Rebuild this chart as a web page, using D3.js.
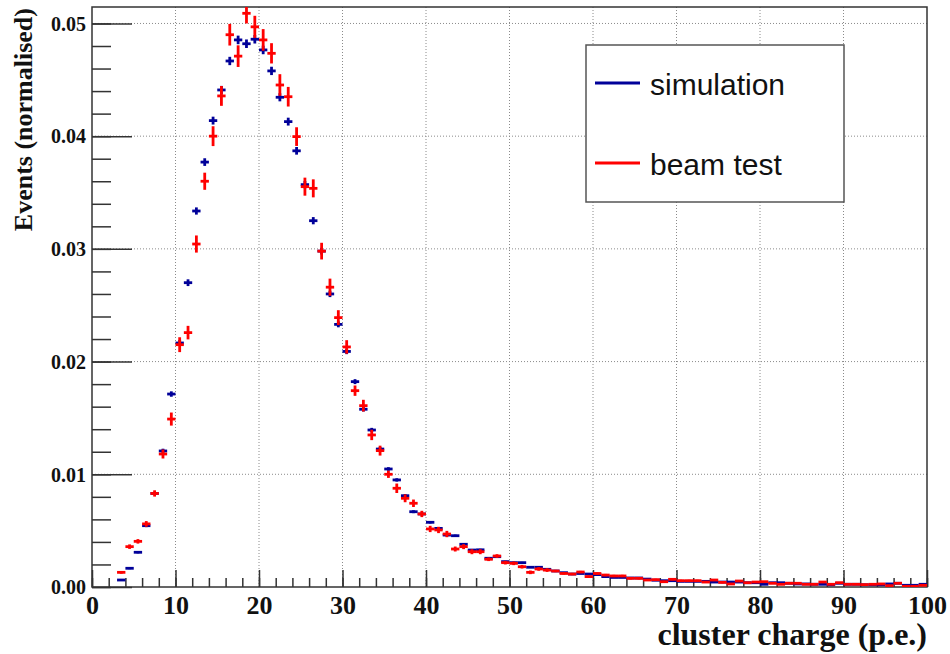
<!DOCTYPE html>
<html>
<head>
<meta charset="utf-8">
<script src="https://cdn.jsdelivr.net/npm/d3@7"></script>
<style>
  html, body { margin: 0; padding: 0; background: #fff; overflow: hidden; }
  svg { display: block; }
  .grid line { stroke: #8a8a8a; stroke-width: 1; stroke-dasharray: 1,2; }
  .axis line { stroke: #333; stroke-width: 1.5; }
  .axis text { font-family: "Liberation Serif", "Times New Roman", serif; font-weight: bold; fill: #111; }
</style>
</head>
<body>
<div id="chart"></div>
<script>
// bin i covers [i, i+1) p.e.
var binEdges = d3.range(0, 101);

var simulation = [
  0, 0, 0, 0.00062, 0.00166, 0.00308, 0.00544, 0.0083, 0.01207, 0.01712,
  0.02165, 0.0270, 0.03336, 0.0377, 0.04138, 0.0441, 0.04667, 0.04854, 0.0482, 0.0486,
  0.04765, 0.04579, 0.04345, 0.04129, 0.0387, 0.0357, 0.0325, 0.0298, 0.0260, 0.0233,
  0.0209, 0.01822, 0.01577, 0.01393, 0.01224, 0.01047, 0.0095, 0.0081, 0.00668, 0.00648,
  0.00574, 0.0052, 0.00461, 0.00455, 0.00379, 0.00328, 0.0033, 0.00255, 0.00269, 0.00225,
  0.00216, 0.00216, 0.00175, 0.00175, 0.00157, 0.00142, 0.00127, 0.00115, 0.0012, 0.00115,
  0.0011, 0.00092, 0.00085, 0.00085, 0.0008, 0.0008, 0.0007, 0.0006, 0.00056, 0.00056,
  0.0005, 0.0005, 0.0005, 0.0005, 0.00044, 0.00044, 0.00044, 0.00044, 0.00038, 0.00038,
  0.00024, 0.00038, 0.00038, 0.00033, 0.00027, 0.00027, 0.00024, 0.00024, 0.0002, 0.00033,
  0.00024, 0.00024, 0.0002, 0.0002, 0.0002, 0.00027, 0.00033, 0.00015, 0.00015, 0.00024
];

var simulationErr = [
  0, 0, 0, 0.00005, 0.00008, 0.0001, 0.00013, 0.00016, 0.0002, 0.00024,
  0.00027, 0.0003, 0.00032, 0.00034, 0.00035, 0.00036, 0.00037, 0.00038, 0.00038, 0.00038,
  0.00038, 0.00037, 0.00036, 0.00035, 0.00034, 0.00033, 0.00032, 0.0003, 0.00028, 0.00026,
  0.00024, 0.00022, 0.0002, 0.00019, 0.00018, 0.00016, 0.00015, 0.00014, 0.00013, 0.00012,
  0.00011, 0.0001, 0.0001, 0.0001, 0.00009, 0.00009, 0.00009, 0.00008, 0.00008, 0.00007,
  0.00007, 0.00007, 0.00006, 0.00006, 0.00006, 0.00005, 0.00005, 0.00005, 0.00005, 0.00005,
  0.00005, 0.00004, 0.00004, 0.00004, 0.00004, 0.00004, 0.00004, 0.00003, 0.00003, 0.00003,
  0.00003, 0.00003, 0.00003, 0.00003, 0.00003, 0.00003, 0.00003, 0.00003, 0.00003, 0.00003,
  0.00002, 0.00003, 0.00003, 0.00002, 0.00002, 0.00002, 0.00002, 0.00002, 0.00002, 0.00002,
  0.00002, 0.00002, 0.00002, 0.00002, 0.00002, 0.00002, 0.00002, 0.00002, 0.00002, 0.00002
];

var beamTest = [
  0, 0, 0, 0.0013, 0.00358, 0.00405, 0.0056, 0.0083, 0.0118, 0.0149,
  0.0215, 0.02257, 0.03043, 0.0360, 0.0400, 0.04357, 0.0490, 0.0471, 0.0509, 0.0497,
  0.04854, 0.04735, 0.04454, 0.0435, 0.03996, 0.03552, 0.03537, 0.0298, 0.0266, 0.0239,
  0.0213, 0.01742, 0.01609, 0.01349, 0.0121, 0.0100, 0.00876, 0.00787, 0.00743, 0.00648,
  0.00515, 0.00506, 0.0047, 0.00337, 0.00358, 0.00313, 0.00313, 0.00246, 0.00275, 0.00216,
  0.0021, 0.0018, 0.0013, 0.0016, 0.0015, 0.00142, 0.0012, 0.00115, 0.00133, 0.00092,
  0.0012, 0.00106, 0.00098, 0.00098, 0.00077, 0.00077, 0.00062, 0.00065, 0.00047, 0.00068,
  0.00056, 0.00056, 0.00056, 0.00044, 0.00062, 0.00041, 0.00027, 0.00053, 0.00038, 0.00044,
  0.00047, 0.00033, 0.00024, 0.00033, 0.00033, 0.00024, 0.00024, 0.00044, 0.00024, 0.00038,
  0.00024, 0.00024, 0.00021, 0.00024, 0.00027, 0.00012, 0.00033, 0.00006, 0.00006, 0.00015
];

var beamTestErr = [
  0, 0, 0, 0.00012, 0.0002, 0.0002, 0.00025, 0.00028, 0.0004, 0.00058,
  0.00066, 0.0006, 0.00076, 0.00076, 0.00088, 0.00088, 0.00096, 0.00096, 0.0009, 0.00098,
  0.00096, 0.0009, 0.00096, 0.00087, 0.00083, 0.0008, 0.0008, 0.00074, 0.00076, 0.00066,
  0.0006, 0.00046, 0.00052, 0.00046, 0.00044, 0.00032, 0.00042, 0.00035, 0.00033, 0.00028,
  0.00028, 0.00028, 0.00028, 0.00022, 0.00022, 0.00022, 0.00022, 0.00016, 0.00016, 0.00016,
  0.00016, 0.00016, 0.00016, 0.00016, 0.00016, 0.0001, 0.0001, 0.0001, 0.0001, 0.0001,
  0.0001, 0.0001, 0.0001, 0.0001, 0.0001, 0.0001, 0.00008, 0.00008, 0.00008, 0.00008,
  0.00008, 0.00008, 0.00008, 0.00008, 0.00008, 0.00008, 0.00006, 0.00006, 0.00006, 0.00006,
  0.00006, 0.00006, 0.00006, 0.00006, 0.00006, 0.00006, 0.00006, 0.00006, 0.00006, 0.00006,
  0.00006, 0.00006, 0.00006, 0.00006, 0.00006, 0.00004, 0.00006, 0.00003, 0.00003, 0.00004
];

var xTickValues = [0, 10, 20, 30, 40, 50, 60, 70, 80, 90, 100];
var yTickValues = [0, 0.01, 0.02, 0.03, 0.04, 0.05];
var legendLabels = ["simulation", "beam test"];

var seriesColors = ["#000099", "#ff0000"];

var width = 950,
  height = 654,
  margin = { top: 7, right: 23, bottom: 67, left: 92 },
  innerWidth = width - margin.left - margin.right,
  innerHeight = height - margin.top - margin.bottom;

var xScale = d3.scaleLinear().domain([0, 100]).range([0, innerWidth]);
var yScale = d3.scaleLinear().domain([0, 0.05146]).range([innerHeight, 0]);

var svg = d3
  .select("#chart")
  .append("svg")
  .attr("width", width)
  .attr("height", height)
  .style("background", "#fff");

var g = svg
  .append("g")
  .attr("transform", "translate(" + margin.left + "," + margin.top + ")");

g.append("defs")
  .append("clipPath")
  .attr("id", "clip")
  .append("rect")
  .attr("width", innerWidth)
  .attr("height", innerHeight);

// dotted grid
var grid = g.append("g").attr("class", "grid");
grid
  .selectAll(".gx")
  .data(xTickValues.slice(1, -1))
  .enter()
  .append("line")
  .attr("x1", (d) => xScale(d))
  .attr("x2", (d) => xScale(d))
  .attr("y1", 0)
  .attr("y2", innerHeight);
grid
  .selectAll(".gy")
  .data(yTickValues.slice(1))
  .enter()
  .append("line")
  .attr("x1", 0)
  .attr("x2", innerWidth)
  .attr("y1", (d) => yScale(d))
  .attr("y2", (d) => yScale(d));

// axes, ticks pointing inward
var xMinor = g
  .append("g")
  .attr("class", "axis")
  .attr("transform", "translate(0," + innerHeight + ")")
  .call(d3.axisBottom(xScale).tickValues(d3.range(0, 101, 2)).tickSize(-9).tickSizeOuter(0));
xMinor.selectAll("text").remove();

var xAxis = g
  .append("g")
  .attr("class", "axis")
  .attr("transform", "translate(0," + innerHeight + ")")
  .call(
    d3.axisBottom(xScale).tickValues(xTickValues).tickSize(-17).tickSizeOuter(0).tickFormat(d3.format("d"))
  );
xAxis
  .selectAll("text")
  .attr("y", 27)
  .attr("dy", null)
  .style("font-size", "26px");

var yMinor = g
  .append("g")
  .attr("class", "axis")
  .call(d3.axisLeft(yScale).tickValues(d3.range(0, 0.0515, 0.002)).tickSize(-19).tickSizeOuter(0));
yMinor.selectAll("text").remove();

var yAxis = g
  .append("g")
  .attr("class", "axis")
  .call(
    d3.axisLeft(yScale).tickValues(yTickValues).tickSize(-40).tickSizeOuter(0).tickFormat(d3.format(".2f"))
  );
yAxis
  .selectAll("text")
  .attr("x", -6)
  .attr("dy", "0.34em")
  .style("font-size", "20px");

g.selectAll(".axis .domain").remove();

// frame
g.append("rect")
  .attr("width", innerWidth)
  .attr("height", innerHeight)
  .attr("fill", "none")
  .attr("stroke", "#333")
  .attr("stroke-width", 1.5);

// histograms with error bars
var series = [
  { values: simulation, errors: simulationErr, color: seriesColors[0] },
  { values: beamTest, errors: beamTestErr, color: seriesColors[1] },
];

var marks = g.append("g").attr("clip-path", "url(#clip)");

series.forEach(function (s) {
  var bins = s.values
    .map((v, i) => ({ lo: binEdges[i], hi: binEdges[i + 1], v: v, e: s.errors[i] }))
    .filter((d) => d.v > 0);

  var sg = marks
    .append("g")
    .attr("stroke", s.color)
    .attr("stroke-width", 2.8)
    .attr("fill", "none");

  sg.selectAll(".hbar")
    .data(bins)
    .enter()
    .append("line")
    .attr("x1", (d) => xScale(d.lo))
    .attr("x2", (d) => xScale(d.hi))
    .attr("y1", (d) => yScale(d.v))
    .attr("y2", (d) => yScale(d.v));

  sg.selectAll(".vbar")
    .data(bins)
    .enter()
    .append("line")
    .attr("x1", (d) => xScale((d.lo + d.hi) / 2))
    .attr("x2", (d) => xScale((d.lo + d.hi) / 2))
    .attr("y1", (d) => yScale(d.v - d.e))
    .attr("y2", (d) => yScale(d.v + d.e));
});

// legend
var legend = svg.append("g").attr("transform", "translate(586,45)");
legend
  .append("rect")
  .attr("width", 258)
  .attr("height", 157)
  .attr("fill", "#fff")
  .attr("stroke", "#555")
  .attr("stroke-width", 1.5);

var legendItem = legend
  .selectAll(".legend-item")
  .data(legendLabels)
  .enter()
  .append("g")
  .attr("transform", (d, i) => "translate(0," + (38 + i * 80) + ")");

legendItem
  .append("line")
  .attr("x1", 9)
  .attr("x2", 54)
  .attr("stroke", (d, i) => seriesColors[i])
  .attr("stroke-width", 3);

legendItem
  .append("text")
  .attr("x", 64)
  .attr("y", 12)
  .style("font-family", "'Liberation Sans', Arial, sans-serif")
  .style("font-size", "30px")
  .style("fill", "#111")
  .text((d) => d);

// axis titles
svg
  .append("text")
  .attr("x", 927)
  .attr("y", 645)
  .attr("text-anchor", "end")
  .style("font-family", "'Liberation Serif', 'Times New Roman', serif")
  .style("font-weight", "bold")
  .style("font-size", "32px")
  .style("fill", "#111")
  .text("cluster charge (p.e.)");

svg
  .append("text")
  .attr("transform", "translate(32,8) rotate(-90)")
  .attr("text-anchor", "end")
  .style("font-family", "'Liberation Serif', 'Times New Roman', serif")
  .style("font-weight", "bold")
  .style("font-size", "26px")
  .style("fill", "#111")
  .text("Events (normalised)");
</script>
</body>
</html>
